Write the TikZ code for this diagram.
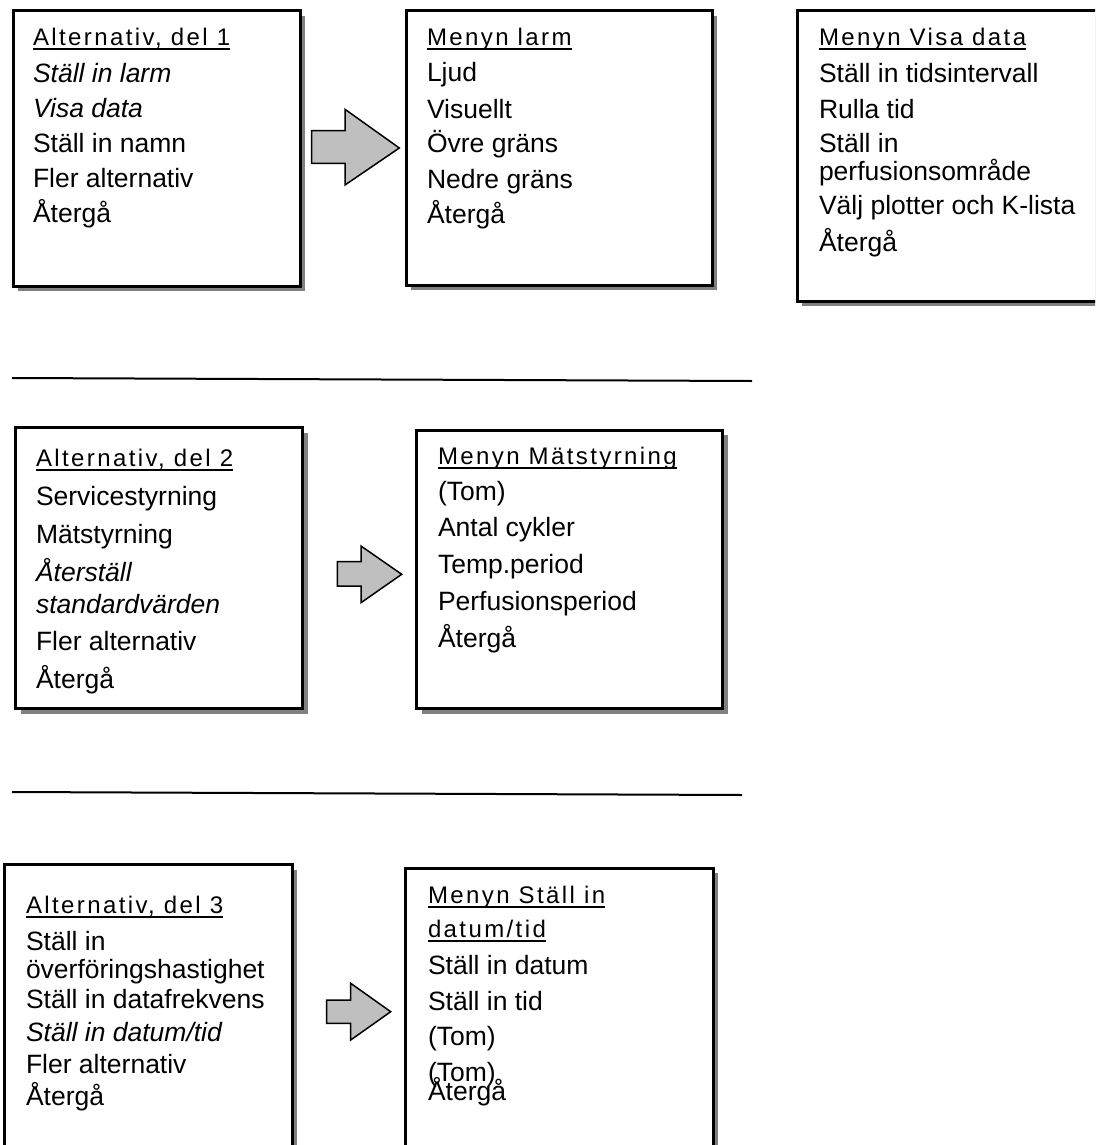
\documentclass[tikz,border=0pt]{standalone}
\usepackage{fontspec}
\setmainfont{Liberation Sans}
\newfontfamily\ttlfont[LetterSpace=10]{Liberation Sans}
\usetikzlibrary{shadows}
\begin{document}
\begin{tikzpicture}[x=1pt,y=-1pt,
  menubox/.style={draw=black, line width=3pt, fill=white, rectangle, inner sep=0pt, outer sep=0pt, anchor=north west,
    drop shadow={shadow xshift=5pt, shadow yshift=-5pt, fill=black!50, opacity=1}},
  item/.style={anchor=base west, inner sep=0pt, outer sep=0pt, font=\fontsize{26.5}{30}\selectfont},
  ttl/.style={anchor=base west, inner sep=0pt, outer sep=0pt, font=\ttlfont\fontsize{24}{28}\selectfont},
  uline/.style={line width=2pt},
  sepline/.style={line width=2pt},
  blockarrow/.style={draw=black, fill=black!25, line width=1.5pt, line join=miter}]
\useasboundingbox (0,0) rectangle (1095,1145);
\clip (0,0) rectangle (1095,1145);
\fill[white] (0,0) rectangle (1095,1145);

% ---------- row 1 ----------
\node[menubox, minimum width=287pt, minimum height=275pt] (b1) at (13,11) {};
\node[menubox, minimum width=306pt, minimum height=274pt] (b2) at (406,11) {};
\node[menubox, minimum width=360pt, minimum height=290pt] (b3) at (797,11) {};

\node[ttl] (b1t) at (33,46) {Alternativ, del 1};
\foreach \yy/\txt [count=\i] in {83/{\textit{Ställ in larm}}, 117.5/{\textit{Visa data}}, 153/{Ställ in namn}, 187/{Fler alternativ}, 222/{Återgå}}
  \node[item] (b1-\i) at (33,\yy) {\txt};

\node[ttl] (b2t) at (427,46) {Menyn larm};
\foreach \yy/\txt [count=\i] in {82/{Ljud}, 118/{Visuellt}, 153/{Övre gräns}, 188/{Nedre gräns}, 223/{Återgå}}
  \node[item] (b2-\i) at (427,\yy) {\txt};

\node[ttl] (b3t) at (819,46) {Menyn Visa data};
\foreach \yy/\txt [count=\i] in {83/{Ställ in tidsintervall}, 118/{Rulla tid}, 153/{Ställ in}, 180/{perfusionsområde}, 214/{Välj plotter och K-lista}, 251/{Återgå}}
  \node[item] (b3-\i) at (819,\yy) {\txt};

\draw[blockarrow] (311.7,130.7) -- (345,130.7) -- (345,109.3) -- (399.3,148) -- (345,185) -- (345,163.3) -- (311.7,163.3) -- cycle;

\coordinate (l1a) at (12,378);
\coordinate (l1b) at (752,381);
\draw[sepline] (l1a) -- (l1b);

% ---------- row 2 ----------
\node[menubox, minimum width=287pt, minimum height=281pt] (b4) at (15.5,427.5) {};
\node[menubox, minimum width=306pt, minimum height=278.5pt] (b5) at (416.5,430) {};

\node[ttl] (b4t) at (36,466) {Alternativ, del 2};
\foreach \yy/\txt [count=\i] in {505/{Servicestyrning}, 543/{Mätstyrning}, 581/{\textit{Återställ}}, 613/{\textit{standardvärden}}, 650/{Fler alternativ}, 688/{Återgå}}
  \node[item] (b4-\i) at (36,\yy) {\txt};

\node[ttl] (b5t) at (438,464) {Menyn Mätstyrning};
\foreach \yy/\txt [count=\i] in {500/{(Tom)}, 536/{Antal cykler}, 573/{Temp.period}, 610/{Perfusionsperiod}, 647/{Återgå}}
  \node[item] (b5-\i) at (438,\yy) {\txt};

\draw[blockarrow] (337.3,561.7) -- (361,561.7) -- (361,546) -- (401.7,574.3) -- (361,602.7) -- (361,586) -- (337.3,586) -- cycle;

\coordinate (l2a) at (12,792);
\coordinate (l2b) at (742,795);
\draw[sepline] (l2a) -- (l2b);

% ---------- row 3 ----------
\node[menubox, minimum width=287.5pt, minimum height=300pt] (b6) at (4.5,864.5) {};
\node[menubox, minimum width=308pt, minimum height=300pt] (b7) at (405,868) {};

\node[ttl] (b6t) at (26,913) {Alternativ, del 3};
\foreach \yy/\txt [count=\i] in {950/{Ställ in}, 978/{överföringshastighet}, 1008/{Ställ in datafrekvens}, 1041/{\textit{Ställ in datum/tid}}, 1073/{Fler alternativ}, 1105/{Återgå}}
  \node[item] (b6-\i) at (26,\yy) {\txt};

\node[ttl] (b7t) at (428,903) {Menyn Ställ in};
\node[ttl] (b7u) at (428,937) {datum/tid};
\foreach \yy/\txt [count=\i] in {974/{Ställ in datum}, 1010/{Ställ in tid}, 1045/{(Tom)}, 1081/{(Tom)}, 1100/{Återgå}}
  \node[item] (b7-\i) at (428,\yy) {\txt};

\draw[blockarrow] (326.7,1000) -- (350.7,1000) -- (350.7,983.3) -- (390.7,1011.7) -- (350.7,1040) -- (350.7,1023.3) -- (326.7,1023.3) -- cycle;

% ---------- title underlines ----------
\foreach \t in {b1t,b2t,b3t,b4t,b5t,b6t,b7t,b7u}
  \draw[uline] ([yshift=-3.5pt]\t.base west) -- ([yshift=-3.5pt]\t.base east);
\end{tikzpicture}
\end{document}
